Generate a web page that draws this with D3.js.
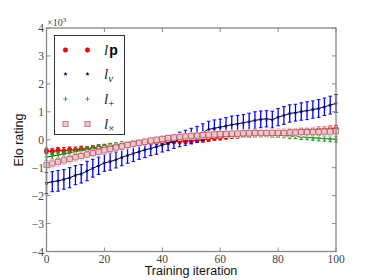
<!DOCTYPE html>
<html><head><meta charset="utf-8">
<script src="https://cdn.jsdelivr.net/npm/d3@7/dist/d3.min.js"></script>
<style>body{margin:0;background:#fff}svg{display:block}</style>
</head><body>
<svg id="c" width="374" height="280"></svg>
<script>
const iterations = [0,2,4,6,8,10,12,14,16,18,20,22,24,26,28,30,32,34,36,38,40,42,44,46,48,50,52,54,56,58,60,62,64,66,68,70,72,74,76,78,80,82,84,86,88,90,92,94,96,98,100];
const lpVals = [-0.40,-0.42,-0.38,-0.40,-0.36,-0.37,-0.33,-0.34,-0.30,-0.28,-0.26,-0.24,-0.22,-0.20,-0.17,-0.14,-0.12,-0.11,-0.10,-0.09,-0.08,-0.07,-0.06,-0.05,-0.05,-0.04,-0.02,0.00,0.03,0.06,0.08,0.11,0.13,0.15,0.17,0.18,0.19,0.20,0.21,0.22,0.22,0.24,0.26,0.28,0.30,0.31,0.33,0.35,0.36,0.38,0.40];
const lpErr = [0.10,0.11,0.10,0.12,0.10,0.11,0.10,0.10,0.09,0.10,0.09,0.10,0.09,0.09,0.10,0.09,0.09,0.08,0.09,0.09,0.08,0.09,0.08,0.09,0.08,0.09,0.08,0.09,0.09,0.08,0.09,0.09,0.08,0.09,0.09,0.10,0.09,0.10,0.09,0.10,0.10,0.10,0.11,0.10,0.11,0.10,0.11,0.11,0.10,0.11,0.11];
const lvVals = [-1.55,-1.50,-1.47,-1.42,-1.36,-1.27,-1.22,-1.12,-1.02,-0.93,-0.83,-0.78,-0.72,-0.63,-0.56,-0.49,-0.43,-0.36,-0.31,-0.25,-0.19,-0.13,-0.06,0.01,0.07,0.13,0.19,0.27,0.37,0.41,0.45,0.49,0.54,0.57,0.61,0.65,0.69,0.73,0.75,0.72,0.81,0.87,0.94,0.97,1.01,1.04,1.08,1.12,1.18,1.24,1.30];
const lvErr = [0.38,0.36,0.37,0.35,0.36,0.34,0.33,0.35,0.32,0.31,0.30,0.31,0.29,0.30,0.28,0.29,0.27,0.28,0.26,0.27,0.25,0.26,0.25,0.26,0.27,0.28,0.29,0.30,0.29,0.30,0.29,0.30,0.31,0.30,0.29,0.30,0.31,0.30,0.29,0.30,0.31,0.32,0.31,0.30,0.31,0.32,0.31,0.32,0.31,0.32,0.32];
const lplusVals = [-0.62,-0.58,-0.55,-0.50,-0.47,-0.42,-0.39,-0.35,-0.31,-0.28,-0.25,-0.22,-0.19,-0.16,-0.14,-0.11,-0.09,-0.07,-0.05,-0.03,-0.01,0.01,0.03,0.05,0.07,0.09,0.10,0.12,0.13,0.15,0.16,0.17,0.18,0.19,0.19,0.20,0.19,0.19,0.18,0.17,0.16,0.15,0.13,0.12,0.10,0.09,0.07,0.06,0.04,0.03,0.02];
const lplusErr = [0.12,0.11,0.12,0.11,0.10,0.11,0.10,0.10,0.09,0.10,0.09,0.09,0.08,0.09,0.08,0.08,0.08,0.07,0.08,0.07,0.07,0.07,0.06,0.07,0.06,0.07,0.06,0.06,0.07,0.06,0.07,0.06,0.07,0.07,0.06,0.07,0.07,0.08,0.07,0.08,0.08,0.08,0.09,0.08,0.09,0.09,0.09,0.10,0.09,0.10,0.10];
const ltimesVals = [-0.90,-0.85,-0.80,-0.74,-0.69,-0.63,-0.58,-0.53,-0.48,-0.43,-0.38,-0.33,-0.28,-0.24,-0.19,-0.15,-0.11,-0.07,-0.03,0.00,0.03,0.06,0.08,0.10,0.12,0.14,0.15,0.17,0.18,0.19,0.20,0.21,0.22,0.22,0.23,0.23,0.24,0.24,0.24,0.25,0.25,0.25,0.26,0.26,0.27,0.27,0.28,0.28,0.29,0.29,0.30];
const ltimesErr = [0.17,0.16,0.17,0.16,0.15,0.16,0.15,0.15,0.14,0.15,0.14,0.14,0.13,0.14,0.13,0.13,0.12,0.13,0.12,0.12,0.12,0.12,0.11,0.12,0.11,0.12,0.12,0.12,0.13,0.12,0.13,0.13,0.14,0.13,0.14,0.14,0.14,0.15,0.14,0.15,0.15,0.15,0.16,0.15,0.16,0.16,0.16,0.17,0.16,0.17,0.17];
const xTicks = [0,20,40,60,80,100];
const yTicks = [-4,-3,-2,-1,0,1,2,3,4];

const svg = d3.select("#c");
const L = 46.5, R = 336, T = 28, B = 251.5;
const x = d3.scaleLinear().domain([0,100]).range([L,R]);
const y = d3.scaleLinear().domain([-4,4]).range([B,T]);

const series = [
  {vals: lpVals, err: lpErr, bar: "#ff0000", line: "#cc0000", marker: "circle", mfill: "#ff0000", mstroke: "#aa0000"},
  {vals: lvVals, err: lvErr, bar: "#0000ff", line: "#000022", marker: "star", mfill: "#000080", mstroke: "#000040"},
  {vals: lplusVals, err: lplusErr, bar: "#229922", line: "#116611", marker: "plus", mfill: "#22aa22", mstroke: "#22aa22"},
  {vals: ltimesVals, err: ltimesErr, bar: "#ffc0cb", line: "#aa7777", marker: "square", mfill: "#ffc0cb", mstroke: "#996666"}
];

function drawMarker(g, type, cx, cy, s) {
  if (type === "circle") {
    g.append("circle").attr("cx", cx).attr("cy", cy).attr("r", 2.3).attr("fill", s.mfill).attr("stroke", s.mstroke).attr("stroke-width", 0.5);
  } else if (type === "star") {
    g.append("path").attr("d", d3.symbol(d3.symbolStar, 6)()).attr("transform", `translate(${cx},${cy})`).attr("fill", s.mfill);
  } else if (type === "plus") {
    g.append("path").attr("d", `M${cx-2.2},${cy}H${cx+2.2}M${cx},${cy-2.2}V${cy+2.2}`).attr("stroke", s.mstroke).attr("stroke-width", 0.9).attr("fill", "none");
  } else if (type === "square") {
    g.append("rect").attr("x", cx-2.6).attr("y", cy-2.6).attr("width", 5.2).attr("height", 5.2).attr("fill", s.mfill).attr("stroke", s.mstroke).attr("stroke-width", 0.7);
  }
}

const plot = svg.append("g");
series.forEach(s => {
  const g = plot.append("g");
  iterations.forEach((it, i) => {
    const px = x(it), y1 = y(s.vals[i]+s.err[i]), y2 = y(s.vals[i]-s.err[i]);
    g.append("line").attr("x1", px).attr("x2", px).attr("y1", y1).attr("y2", y2).attr("stroke", s.bar).attr("stroke-width", 1.3);
    g.append("line").attr("x1", px-1.8).attr("x2", px+1.8).attr("y1", y1).attr("y2", y1).attr("stroke", s.bar).attr("stroke-width", 1);
    g.append("line").attr("x1", px-1.8).attr("x2", px+1.8).attr("y1", y2).attr("y2", y2).attr("stroke", s.bar).attr("stroke-width", 1);
  });
  g.append("path").datum(iterations.map((it,i)=>[it, s.vals[i]]))
    .attr("d", d3.line().x(d=>x(d[0])).y(d=>y(d[1])))
    .attr("fill","none").attr("stroke", s.line).attr("stroke-width", 1);
  iterations.forEach((it, i) => drawMarker(g, s.marker, x(it), y(s.vals[i]), s));
});

const frameColor = "#888";
svg.append("rect").attr("x", L).attr("y", T).attr("width", R-L).attr("height", B-T)
  .attr("fill","none").attr("stroke", frameColor).attr("stroke-width", 1.3);

const tickG = svg.append("g").attr("stroke", frameColor).attr("stroke-width", 1);
xTicks.forEach(t => {
  tickG.append("line").attr("x1", x(t)).attr("x2", x(t)).attr("y1", B).attr("y2", B-4);
  tickG.append("line").attr("x1", x(t)).attr("x2", x(t)).attr("y1", T).attr("y2", T+4);
});
yTicks.forEach(t => {
  tickG.append("line").attr("x1", L).attr("x2", L+4).attr("y1", y(t)).attr("y2", y(t));
  tickG.append("line").attr("x1", R).attr("x2", R-4).attr("y1", y(t)).attr("y2", y(t));
});

const serif = "'Liberation Serif', 'DejaVu Serif', serif";
const sans = "'Liberation Sans', Arial, sans-serif";
svg.append("g").selectAll("text").data(xTicks).join("text")
  .attr("x", d => x(d)).attr("y", 263).attr("text-anchor","middle")
  .attr("font-family", serif).attr("font-size", 11.5).attr("fill", "#444")
  .text(d => d);
svg.append("g").selectAll("text").data(yTicks).join("text")
  .attr("x", 44).attr("y", d => y(d)+4).attr("text-anchor","end")
  .attr("font-family", serif).attr("font-size", 11.5).attr("fill", "#444")
  .text(d => d < 0 ? "\u2212" + Math.abs(d) : d);

const mult = svg.append("text").attr("x", 47).attr("y", 26).attr("font-family", serif).attr("font-size", 10).attr("fill", "#444");
mult.append("tspan").text("\u00d710");
mult.append("tspan").attr("dy", -4).attr("font-size", 7).text("3");

svg.append("text").attr("x", 191).attr("y", 275).attr("text-anchor","middle")
  .attr("font-family", sans).attr("font-size", 12.5).attr("fill","#111").text("Training iteration");
svg.append("text").attr("transform", "translate(23,140) rotate(-90)").attr("text-anchor","middle")
  .attr("font-family", sans).attr("font-size", 12.5).attr("fill","#111").text("Elo rating");

const lg = svg.append("g");
lg.append("rect").attr("x", 54.5).attr("y", 35.5).attr("width", 70).attr("height", 99)
  .attr("fill","#fff").attr("stroke","#333").attr("stroke-width", 1);
const legY = [50, 74, 99, 124];
const legLabels = [["l","p"],["l","v"],["l","+"],["l","\u00d7"]];
series.forEach((s, i) => {
  drawMarker(lg, s.marker, 65.5, legY[i], s);
  drawMarker(lg, s.marker, 87.5, legY[i], s);
  const t = lg.append("text").attr("x", 104).attr("y", legY[i]+4.5).attr("fill","#222");
  t.append("tspan").attr("font-family", serif).attr("font-style","italic").attr("font-size", 15).text(legLabels[i][0]);
  if (i === 0) {
    t.append("tspan").attr("dx", 1).attr("font-family", sans).attr("font-weight","bold").attr("font-size", 14).attr("fill","#000").text(legLabels[i][1]);
  } else {
    t.append("tspan").attr("dy", 3).attr("font-family", serif).attr("font-style", i===1 ? "italic" : "normal").attr("font-size", 11).text(legLabels[i][1]);
  }
});
</script>
</body></html>
